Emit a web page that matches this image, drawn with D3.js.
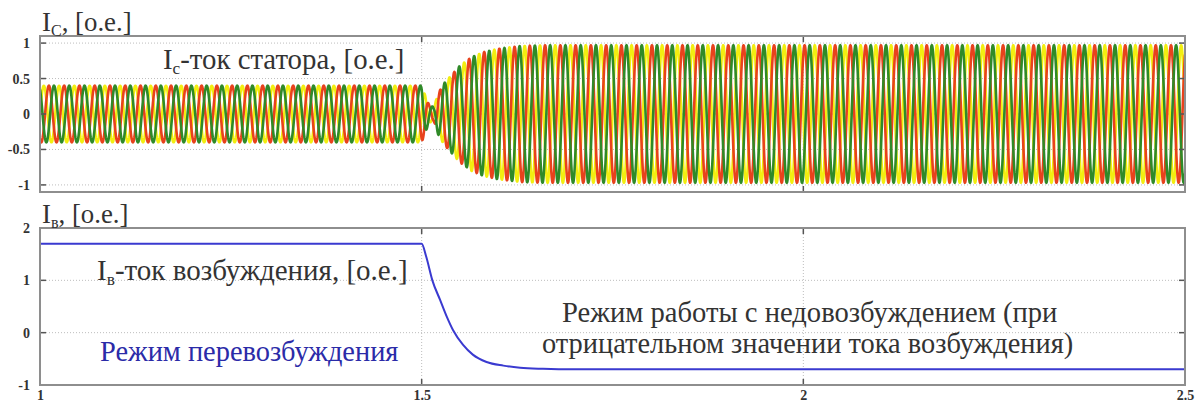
<!DOCTYPE html>
<html>
<head>
<meta charset="utf-8">
<script src="https://cdn.jsdelivr.net/npm/d3@7"></script>
<style>
  html, body { margin: 0; padding: 0; background: #fff; }
  svg { display: block; }
</style>
</head>
<body>
<svg id="chart" width="1199" height="403"></svg>
<script>
// ---- data ----
// time axis (s)
const xTicks = [1, 1.5, 2, 2.5];
const xTickLabels = ["1", "1.5", "2", "2.5"];

// stator current panel
const statorTicks = [-1, -0.5, 0, 0.5, 1];
const statorTickLabels = ["-1", "-0.5", "0", "0.5", "1"];
// envelope of the three-phase stator current (peak value, p.u.) vs time
const statorEnvTime = [1.0, 1.5, 1.504, 1.51, 1.516, 1.522, 1.53, 1.54, 1.55, 1.565, 1.58, 1.6, 1.63, 1.66, 2.5];
const statorEnvAmp  = [0.40, 0.40, 0.28, 0.12, 0.10, 0.30, 0.44, 0.56, 0.68, 0.80, 0.87, 0.92, 0.96, 0.97, 0.97];
// phase shift of the currents through the transition (rad)
const statorEnvShift = [0, 0, 0.3, 0.9, 1.6, 2.2, 2.6, 2.8, 2.9, 3.0, 3.05, 3.1, 3.14, 3.14, 3.14];
const supplyFreq = 50; // Hz
const phaseNames = ["A", "B", "C"];
const phaseColors = ["#f2ee10", "#e8421c", "#2f8a28"];

// field (excitation) current panel
const fieldTicks = [-1, 0, 1, 2];
const fieldTickLabels = ["-1", "0", "1", "2"];
const fieldTime  = [1.0, 1.5, 1.506, 1.514, 1.524, 1.533, 1.541, 1.554, 1.567, 1.585, 1.607, 1.629, 1.659, 1.7, 2.0, 2.5];
const fieldValue = [1.7, 1.7, 1.45, 1.0, 0.63, 0.30, 0.05, -0.23, -0.42, -0.56, -0.63, -0.67, -0.69, -0.70, -0.70, -0.70];

// ---- layout ----
const SERIF = "'Liberation Serif'";
const svg = d3.select("#chart");
const left = 40, right = 1185;
const topPanel = { y0: 36, y1: 192 };
const botPanel = { y0: 228, y1: 385 };

const x = d3.scaleLinear().domain([1, 2.5]).range([left, right]);
const yTop = d3.scaleLinear().domain([-1.1, 1.1]).range([topPanel.y1, topPanel.y0]);
const yBot = d3.scaleLinear().domain([-1, 2]).range([botPanel.y1, botPanel.y0]);

const gridColor = "#bdbdbd";
const frameColor = "#8e8e8e";
const tickColor = "#555";

function panel(yScale, p, ticks, labels, clipId) {
  const g = svg.append("g");
  // grid
  g.selectAll(".hgrid").data(ticks.filter(v => yScale(v) > p.y0 + 1 && yScale(v) < p.y1 - 1))
    .enter().append("line")
    .attr("x1", left).attr("x2", right)
    .attr("y1", d => yScale(d)).attr("y2", d => yScale(d))
    .attr("stroke", gridColor).attr("stroke-width", 1).attr("stroke-dasharray", "1,2");
  g.selectAll(".vgrid").data(xTicks.filter(v => x(v) > left + 1 && x(v) < right - 1))
    .enter().append("line")
    .attr("y1", p.y0).attr("y2", p.y1)
    .attr("x1", d => x(d)).attr("x2", d => x(d))
    .attr("stroke", gridColor).attr("stroke-width", 1).attr("stroke-dasharray", "1,2");

  svg.append("clipPath").attr("id", clipId).append("rect")
    .attr("x", left).attr("y", p.y0).attr("width", right - left).attr("height", p.y1 - p.y0);

  // y tick labels
  const yAxis = d3.axisLeft(yScale).tickValues(ticks)
    .tickFormat((d, i) => labels[i]).tickSize(0).tickPadding(10);
  const ya = svg.append("g").attr("transform", `translate(${left},0)`).call(yAxis);
  ya.attr("font-family", SERIF);
  ya.select(".domain").remove();
  ya.selectAll("text").attr("font-size", 14).attr("font-weight", "bold")
    .attr("fill", "#333");
  return g;
}

function frame(yScale, p, ticks) {
  const g = svg.append("g");
  const tl = 6;
  ticks.forEach(v => {
    const yy = yScale(v);
    g.append("line").attr("x1", left).attr("x2", left + tl).attr("y1", yy).attr("y2", yy)
      .attr("stroke", tickColor).attr("stroke-width", 1.5);
    g.append("line").attr("x1", right - tl).attr("x2", right).attr("y1", yy).attr("y2", yy)
      .attr("stroke", tickColor).attr("stroke-width", 1.5);
  });
  xTicks.forEach(v => {
    const xx = x(v);
    g.append("line").attr("x1", xx).attr("x2", xx).attr("y1", p.y0).attr("y2", p.y0 + tl)
      .attr("stroke", tickColor).attr("stroke-width", 1.5);
    g.append("line").attr("x1", xx).attr("x2", xx).attr("y1", p.y1 - tl).attr("y2", p.y1)
      .attr("stroke", tickColor).attr("stroke-width", 1.5);
  });
  g.append("rect").attr("x", left).attr("y", p.y0)
    .attr("width", right - left).attr("height", p.y1 - p.y0)
    .attr("fill", "none").attr("stroke", frameColor).attr("stroke-width", 2);
}

// ---- stator current ----
panel(yTop, topPanel, statorTicks, statorTickLabels, "clipTop");

const envAmp = d3.scaleLinear().domain(statorEnvTime).range(statorEnvAmp).clamp(true);
const envShift = d3.scaleLinear().domain(statorEnvTime).range(statorEnvShift).clamp(true);
const tSamples = d3.range(1, 2.5 + 1e-9, 0.0004);
const statorLine = d3.line().x(d => x(d.t)).y(d => yTop(d.v));

const waves = svg.append("g").attr("clip-path", "url(#clipTop)");
phaseNames.forEach((name, k) => {
  const pts = tSamples.map(t => ({
    t,
    v: envAmp(t) * Math.sin(2 * Math.PI * supplyFreq * (t - 1) + envShift(t) - k * 2 * Math.PI / 3)
  }));
  waves.append("path").datum(pts)
    .attr("d", statorLine)
    .attr("fill", "none")
    .attr("stroke", phaseColors[k])
    .attr("stroke-width", 2.6)
    .attr("stroke-linejoin", "round");
});
frame(yTop, topPanel, statorTicks);

// ---- field current ----
panel(yBot, botPanel, fieldTicks, fieldTickLabels, "clipBot");
const fieldData = fieldTime.map((t, i) => ({ t, v: fieldValue[i] }));
svg.append("g").attr("clip-path", "url(#clipBot)").append("path")
  .datum(fieldData)
  .attr("d", d3.line().x(d => x(d.t)).y(d => yBot(d.v)).curve(d3.curveMonotoneX))
  .attr("fill", "none").attr("stroke", "#3a3ad0").attr("stroke-width", 2);
frame(yBot, botPanel, fieldTicks);

// x tick labels under the lower panel
const xAxis = d3.axisBottom(x).tickValues(xTicks)
  .tickFormat((d, i) => xTickLabels[i]).tickSize(0).tickPadding(5);
const xa = svg.append("g").attr("transform", `translate(0,${botPanel.y1})`).call(xAxis);
xa.attr("font-family", SERIF);
xa.select(".domain").remove();
xa.selectAll("text").attr("font-size", 14).attr("font-weight", "bold")
  .attr("fill", "#333");

// ---- text ----
function label(xPos, yPos, parts, size, color) {
  const t = svg.append("text").attr("font-family", SERIF)
    .attr("x", xPos).attr("y", yPos).attr("font-size", size).attr("fill", color);
  parts.forEach(p => {
    const s = t.append("tspan").text(p.text);
    if (p.sub) s.attr("font-size", size * 0.6).attr("dy", size * 0.18);
    if (p.back) s.attr("dy", -size * 0.18);
  });
  return t;
}

label(42, 31, [{ text: "I" }, { text: "C", sub: true }, { text: ", [о.е.]", back: true }], 26.8, "#333");
label(42, 223, [{ text: "I" }, { text: "в", sub: true }, { text: ", [о.е.]", back: true }], 26.8, "#333");

label(163, 69, [{ text: "I" }, { text: "c", sub: true }, { text: "-ток статора, [о.е.]", back: true }], 28.8, "#333");
label(97, 280, [{ text: "I" }, { text: "в", sub: true }, { text: "-ток возбуждения, [о.е.]", back: true }], 29, "#333");
label(100, 361, [{ text: "Режим перевозбуждения" }], 28.4, "#2b2ba8");
label(562, 322, [{ text: "Режим работы с недовозбуждением (при" }], 28.6, "#333");
label(542, 353, [{ text: "отрицательном значении тока возбуждения)" }], 28.4, "#333");
</script>
</body>
</html>
